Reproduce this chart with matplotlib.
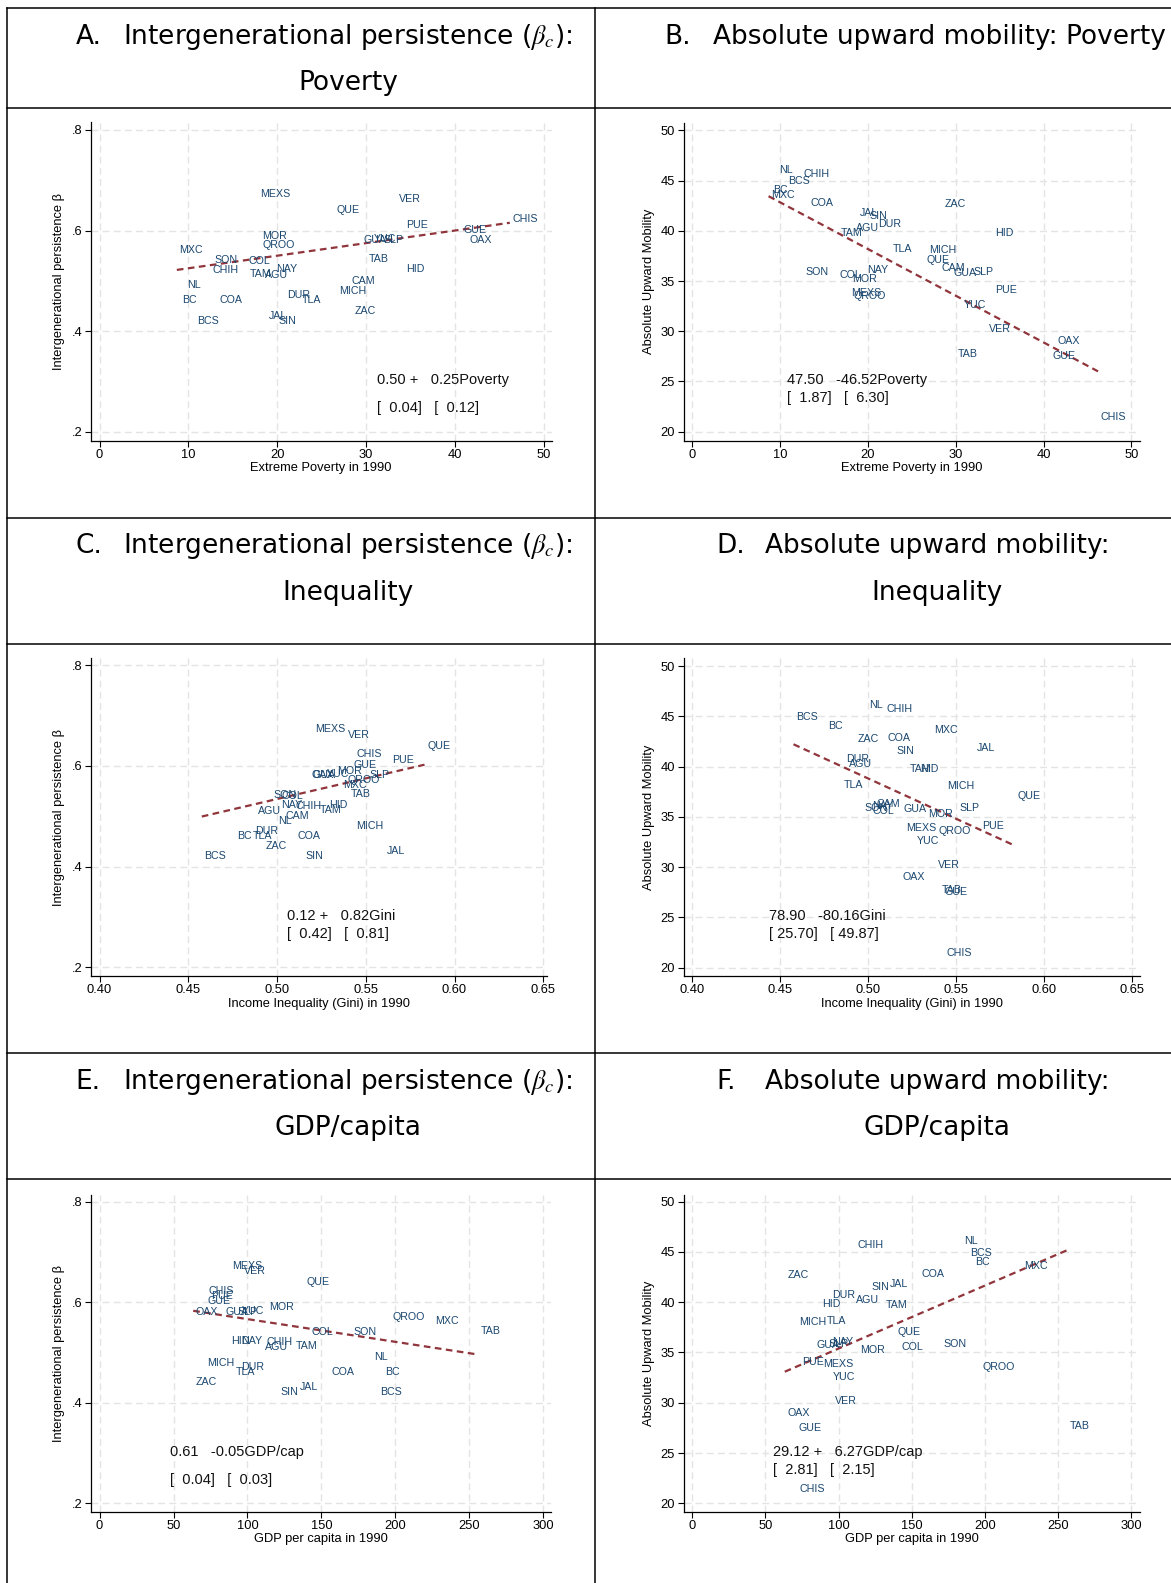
import numpy as np
import matplotlib
matplotlib.use('Agg')
import matplotlib.pyplot as plt
from matplotlib.lines import Line2D

# ---- data ----
states = ['AGU', 'BC', 'BCS', 'CAM', 'COA', 'COL', 'CHIS', 'CHIH', 'MXC', 'DUR', 'GUA',
          'GUE', 'HID', 'JAL', 'MEXS', 'MICH', 'MOR', 'NAY', 'NL', 'OAX', 'PUE', 'QUE',
          'QROO', 'SLP', 'SIN', 'SON', 'TAB', 'TAM', 'TLA', 'VER', 'YUC', 'ZAC']

poverty = [18.3, 8.95, 10.65, 28.05, 13.2, 16.5, 46.2, 12.35, 8.7, 20.8, 29.45,
           40.65, 34.2, 18.75, 17.8, 26.7, 17.95, 19.6, 9.6, 41.3, 34.2, 26.4,
           18.0, 31.7, 19.85, 12.6, 29.95, 16.6, 22.5, 33.45, 30.6, 28.4]

gini = [0.4877, 0.4759, 0.4576, 0.5033, 0.5097, 0.5009, 0.5431, 0.5089, 0.5357, 0.4861, 0.5185,
        0.5416, 0.5280, 0.5601, 0.5200, 0.5431, 0.5323, 0.5005, 0.4989, 0.5180, 0.5630, 0.5831,
        0.5382, 0.5505, 0.5146, 0.4966, 0.5400, 0.5223, 0.4848, 0.5382, 0.5262, 0.4922]

gdp = [109.8, 191.1, 188.1, np.nan, 155.0, 141.2, 71.6, 111.3, 224.8, 93.5, 83.4,
       71.1, 87.0, 133.5, 87.7, 70.9, 112.7, 94.0, 183.7, 63.3, 73.4, 138.1,
       196.5, 91.5, 120.6, 169.6, 256.1, 130.6, 90.0, 95.9, 94.2, 63.3]

beta = [0.511, 0.461, 0.421, 0.500, 0.461, 0.540, 0.623, 0.521, 0.562, 0.471, 0.581,
        0.602, 0.523, 0.431, 0.672, 0.480, 0.590, 0.523, 0.491, 0.581, 0.612, 0.640,
        0.571, 0.581, 0.421, 0.541, 0.543, 0.513, 0.461, 0.662, 0.583, 0.441]

mobility = [40.27, 44.02, 44.92, 36.3, 42.81, 35.56, 21.43, 45.7, 43.61, 40.72, 35.79,
            27.49, 39.81, 41.8, 33.85, 38.05, 35.25, 36.09, 46.08, 28.99, 34.07, 37.06,
            33.56, 35.87, 41.51, 35.87, 27.7, 39.75, 38.15, 30.2, 32.58, 42.72]

# fitted lines: intercept, slope (per unit of the regressor as in the equation)
fit_a = [0.50, 47.50, 0.124, 78.90, 0.6116, 29.12]
fit_b = [0.25, -46.52, 0.82, -80.16, -0.0452, 6.27]
eq_top = ['0.50 +   0.25Poverty', '47.50   -46.52Poverty', '0.12 +   0.82Gini',
          '78.90   -80.16Gini', '0.61   -0.05GDP/cap', '29.12 +   6.27GDP/cap']
eq_se = ['[  0.04]   [  0.12]', '[  1.87]   [  6.30]', '[  0.42]   [  0.81]',
         '[ 25.70]   [ 49.87]', '[  0.04]   [  0.03]', '[  2.81]   [  2.15]']

titles = [('A.', r'Intergenerational persistence ($\beta_c$):', 'Poverty'),
          ('B.', 'Absolute upward mobility: Poverty', None),
          ('C.', r'Intergenerational persistence ($\beta_c$):', 'Inequality'),
          ('D.', 'Absolute upward mobility:', 'Inequality'),
          ('E.', r'Intergenerational persistence ($\beta_c$):', 'GDP/capita'),
          ('F.', 'Absolute upward mobility:', 'GDP/capita')]

# ---- layout ----
W, H = 1171, 1583
fig = plt.figure(figsize=(W / 100, H / 100), dpi=100)
plt.rcParams['mathtext.fontset'] = 'stix'

def fx(x):
    return x / W

def fy(y):
    return 1 - y / H

def hline(y, x0=7, x1=W):
    fig.add_artist(Line2D([fx(x0), fx(x1)], [fy(y), fy(y)], color='black', lw=1.1))

def vline(x, y0=8, y1=H):
    fig.add_artist(Line2D([fx(x), fx(x)], [fy(y0), fy(y1)], color='black', lw=1.1))

for y in [8, 108, 518, 644, 1053, 1179]:
    hline(y)
vline(7)
vline(594.6)

title_font = 'DejaVu Sans'
tsize = 19
head = [(75.7, 123, 37, 83, 348), (664, 712.7, 37, None, None),
        (75.7, 123, 546, 593, 348), (716.7, 765, 546, 593, 937),
        (75.7, 123, 1082, 1128, 348), (716.7, 765, 1082, 1128, 937)]
for (letter, l1, l2), (lx, tx, y1, y2, cx) in zip(titles, head):
    fig.text(fx(lx), fy(y1), letter, family=title_font, fontsize=tsize, ha='left', va='center')
    fig.text(fx(tx), fy(y1), l1, family=title_font, fontsize=tsize, ha='left', va='center')
    if l2:
        fig.text(fx(cx), fy(y2), l2, family=title_font, fontsize=tsize, ha='center', va='center')

boxes = [(90.9, 122.3, 551.6, 440.7), (683.5, 122.7, 1139.7, 440.7),
         (90.9, 658.3, 546.8, 976), (683.5, 658.3, 1139.7, 976),
         (90.9, 1195, 551.4, 1511.7), (683.5, 1195, 1139.7, 1511.7)]
xlims = [(-0.98, 50.91), (-0.98, 50.94), (0.3951, 0.652), (0.3951, 0.6543),
         (-5.88, 305.5), (-5.87, 305.67)]
ylims = [(0.1821, 0.8153), (19.105, 50.77), (0.1827, 0.8133), (19.175, 50.77),
         (0.1833, 0.8133), (19.16, 50.67)]
eq_pos = [(31.2, 0.3028, 0.2464), (10.8, 25.14, 23.32), (0.5057, 0.3019, 0.2655),
          (0.4437, 25.14, 23.32), (47.9, 0.3014, 0.2464), (55.4, 25.07, 23.32)]

xs_all = [poverty, poverty, gini, gini, gdp, gdp]
ys_all = [beta, mobility, beta, mobility, beta, mobility]
xscale = [0.01, 0.01, 1.0, 1.0, 0.01, 0.01]
xlabels = ['Extreme Poverty in 1990', 'Extreme Poverty in 1990',
           'Income Inequality (Gini) in 1990', 'Income Inequality (Gini) in 1990',
           'GDP per capita in 1990', 'GDP per capita in 1990']
xticks = [np.arange(0, 51, 10), np.arange(0, 51, 10),
          [0.40, 0.45, 0.50, 0.55, 0.60, 0.65], [0.40, 0.45, 0.50, 0.55, 0.60, 0.65],
          np.arange(0, 301, 50), np.arange(0, 301, 50)]

font = ['Liberation Sans', 'DejaVu Sans']
lab_col = '#1a476f'
fit_col = '#90353b'

for i in range(6):
    l, t, r, b = boxes[i]
    ax = fig.add_axes([fx(l), fy(b), (r - l) / W, (b - t) / H])
    x = np.array(xs_all[i], dtype=float)
    y = np.array(ys_all[i], dtype=float)
    ok = ~np.isnan(x)

    for s, xv, yv in zip(np.array(states)[ok], x[ok], y[ok]):
        ax.annotate(s, (xv, yv), xytext=(2, 0), textcoords='offset points',
                    ha='left', va='center', fontsize=7.7, color=lab_col, family=font)

    xx = np.array([x[ok].min(), x[ok].max()])
    ax.plot(xx, fit_a[i] + fit_b[i] * xx * xscale[i], color=fit_col, lw=1.6,
            ls=(0, (3, 2)))

    ex, ey1, ey2 = eq_pos[i]
    ax.text(ex, ey1, eq_top[i], ha='left', va='center', fontsize=10.5, family=font, color='#111111')
    ax.text(ex, ey2, eq_se[i], ha='left', va='center', fontsize=10.5, family=font, color='#111111')

    ax.set_xlim(*xlims[i])
    ax.set_ylim(*ylims[i])
    ax.set_xticks(xticks[i])
    if i in (2, 3):
        ax.set_xticklabels(['%.2f' % v for v in xticks[i]])
    if i % 2 == 0:
        ax.set_yticks([0.2, 0.4, 0.6, 0.8])
        ax.set_yticklabels(['.2', '.4', '.6', '.8'])
        ax.set_ylabel('Intergenerational persistence β', fontsize=9.3, family=font, labelpad=5)
    else:
        ax.set_yticks(np.arange(20, 51, 5))
        ax.set_ylabel('Absolute Upward Mobility', fontsize=9.3, family=font, labelpad=4)
    ax.set_xlabel(xlabels[i], fontsize=9.3, family=font, labelpad=1)

    for lab in ax.get_xticklabels() + ax.get_yticklabels():
        lab.set_family(font)
    ax.tick_params(direction='out', length=4, width=0.8, labelsize=9.3, pad=2)
    ax.spines['top'].set_visible(False)
    ax.spines['right'].set_visible(False)
    ax.spines['left'].set_linewidth(0.9)
    ax.spines['bottom'].set_linewidth(0.9)
    ax.grid(True, color='#e4e4e4', lw=1.0, ls=(0, (5, 3)))
    ax.set_axisbelow(True)
    ax.patch.set_alpha(0)

fig.savefig('out.png', dpi=100, facecolor='white')
